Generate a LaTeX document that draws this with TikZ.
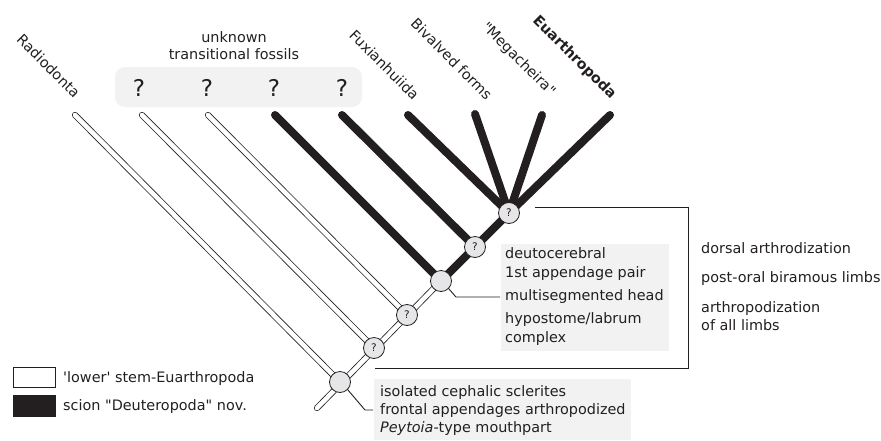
\documentclass[tikz,border=0pt]{standalone}
\usepackage{fontspec}
\setmainfont{DejaVu Sans}[Ligatures=TeXOff]
\definecolor{ink}{HTML}{231F20}
\definecolor{nodefill}{HTML}{E6E6E8}
\definecolor{boxfill}{HTML}{F1F2F1}
\begin{document}
\begin{tikzpicture}[x=1pt,y=-1pt,
  txt/.style={font=\fontsize{14.4}{18}\selectfont, inner sep=0pt, text=ink},
  lbl/.style={txt, rotate=-45, anchor=base east},
  qbig/.style={font=\fontsize{23}{26}\selectfont, inner sep=0pt, text=ink, anchor=base},
  lowerbr/.style={draw=ink, line width=0.8pt, double=white, double distance=4.6pt, line cap=round},
  scionbr/.style={draw=ink, line width=8pt, line cap=round},
  knot/.style={circle, draw=ink, line width=0.8pt, fill=nodefill, minimum size=21pt, inner sep=0pt,
    font=\fontsize{10.5}{12}\selectfont, text=ink},
  leader/.style={draw=ink, line width=0.9pt},
  greybox/.style={fill=boxfill, draw=none}
]
\useasboundingbox (0,0) rectangle (881,440);

% positions
\coordinate (root) at (317,408);
\coordinate (p1) at (340,382);
\coordinate (p2) at (374,348);
\coordinate (p3) at (407,315);
\coordinate (p4) at (441,281);
\coordinate (p5) at (475,247);
\coordinate (p6) at (509,213);
\coordinate (t1) at (75,115);
\coordinate (t2) at (142,115);
\coordinate (t3) at (208,115);
\coordinate (t4) at (275,115);
\coordinate (t5) at (342,115);
\coordinate (t6) at (408,115);
\coordinate (t7) at (475,114);
\coordinate (t8) at (542,115);
\coordinate (t9) at (610,115);

% grey boxes
\fill[greybox, rounded corners=10pt] (115,67) rectangle (362,107);
\fill[greybox] (501,244) rectangle (669,351);
\fill[greybox] (374,379) rectangle (631,440);

% top labels
\node[txt, anchor=base] (unk1) at (234,42) {unknown};
\node[txt, anchor=base] (unk2) at (234,59) {transitional fossils};
\node[qbig] (q1) at (139,96) {?};
\node[qbig] (q2) at (207,96) {?};
\node[qbig] (q3) at (274,96) {?};
\node[qbig] (q4) at (342,96) {?};

\node[lbl] (radio) at (74,99) {Radiodonta};
\node[lbl] (fux) at (413,101) {Fuxianhuiida};
\node[lbl] (biv) at (486,101) {Bivalved forms};
\node[lbl] (meg) at (550,97) {"Megacheira"};
\node[lbl, font=\fontsize{14.4}{18}\selectfont\bfseries] (eu) at (611,100) {Euarthropoda};

% lower stem-group branches
\draw[lowerbr] (root) -- (p4);
\draw[lowerbr] (t1) -- (p1);
\draw[lowerbr] (t2) -- (p2);
\draw[lowerbr] (t3) -- (p3);

% scion branches
\draw[scionbr] (p4) -- (p6);
\draw[scionbr] (t4) -- (p4);
\draw[scionbr] (t5) -- (p5);
\draw[scionbr] (t6) -- (p6);
\draw[scionbr] (t7) -- (p6);
\draw[scionbr] (t8) -- (p6);
\draw[scionbr] (t9) -- (p6);

% nodes
\node[knot] (n1) at (p1) {};
\node[knot] (n2) at (p2) {?};
\node[knot] (n3) at (p3) {?};
\node[knot] (n4) at (p4) {};
\node[knot] (n5) at (p5) {?};
\node[knot] (n6) at (p6) {?};

% leaders and bracket
\coordinate (a1) at (365,410);
\coordinate (a2) at (373,410);
\draw[leader] (n1.south east) -- (a1) -- (a2);
\coordinate (b1) at (456,297);
\coordinate (b2) at (500,297);
\draw[leader] (n4.south east) -- (b1) -- (b2);
\coordinate (c1) at (535,207);
\coordinate (c2) at (688,207);
\coordinate (c3) at (688,368);
\coordinate (c4) at (375,368);
\draw[leader] (c1) -- (c2) -- (c3) -- (c4);

% box texts
\node[txt, anchor=base west] (d1) at (505,258) {deutocerebral};
\node[txt, anchor=base west] (d2) at (505,277) {1st appendage pair};
\node[txt, anchor=base west] (d3) at (505,300) {multisegmented head};
\node[txt, anchor=base west] (d4) at (505,323) {hypostome/labrum};
\node[txt, anchor=base west] (d5) at (505,342) {complex};

\node[txt, anchor=base west] (e1) at (380,396) {isolated cephalic sclerites};
\node[txt, anchor=base west] (e2) at (380,414) {frontal appendages arthropodized};
\node[txt, anchor=base west] (e3) at (380,432) {\itshape Peytoia\upshape-type mouthpart};

\node[txt, anchor=base west] (r1) at (701,253) {dorsal arthrodization};
\node[txt, anchor=base west] (r2) at (701,282) {post-oral biramous limbs};
\node[txt, anchor=base west] (r3) at (701,312) {arthropodization};
\node[txt, anchor=base west] (r4) at (701,330) {of all limbs};

% legend
\node[draw=ink, line width=0.9pt, fill=white, minimum width=42pt, minimum height=20pt, inner sep=0pt] (lw) at (34,377) {};
\node[draw=ink, line width=0.9pt, fill=ink, minimum width=42pt, minimum height=21pt, inner sep=0pt] (lb) at (34,405.5) {};
\node[txt, anchor=base west] (lwt) at (63,382) {'lower' stem-Euarthropoda};
\node[txt, anchor=base west] (lbt) at (63,410) {scion "Deuteropoda" nov.};
\end{tikzpicture}
\end{document}
